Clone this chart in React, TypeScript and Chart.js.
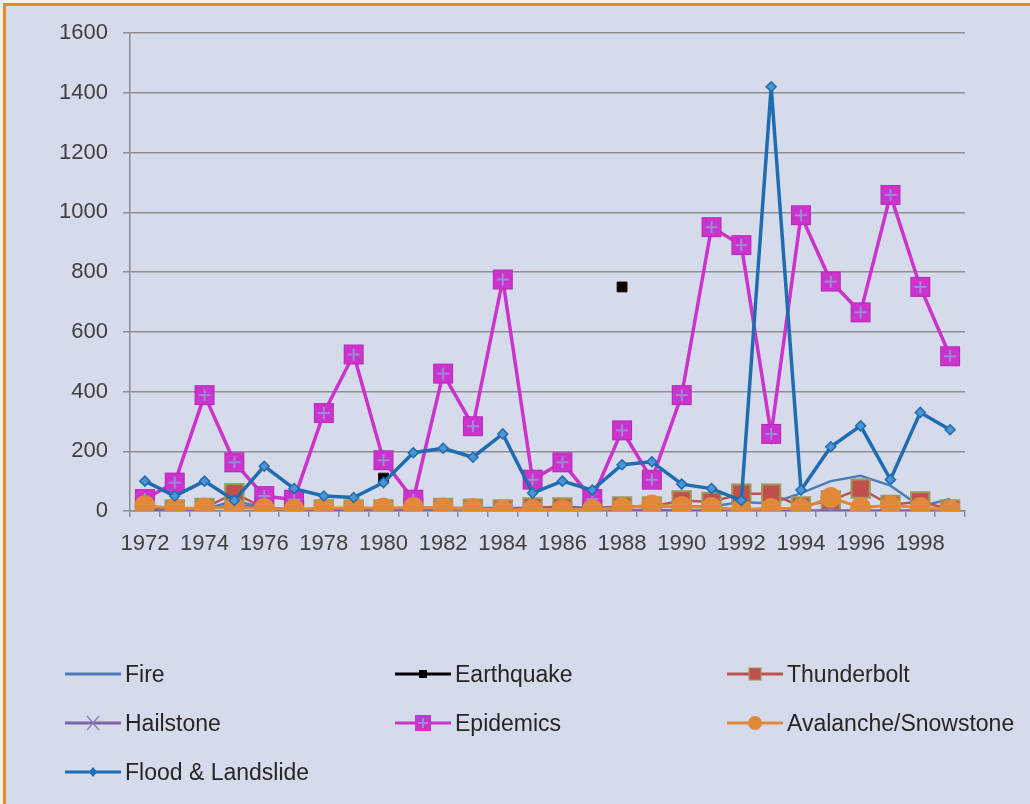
import React, { useEffect, useRef } from "react";
import { Chart, registerables } from "chart.js";

Chart.register(...registerables);

const years = [
  "1972", "1973", "1974", "1975", "1976", "1977", "1978", "1979", "1980", "1981",
  "1982", "1983", "1984", "1985", "1986", "1987", "1988", "1989", "1990", "1991",
  "1992", "1993", "1994", "1995", "1996", "1997", "1998", "1999",
];
const yTicks = [0, 200, 400, 600, 800, 1000, 1200, 1400, 1600];

const fire = [8, 5, 5, 35, 10, 5, 5, 5, 5, 10, 10, 10, 10, 10, 15, 10, 15, 15, 15, 15, 30, 25, 60, 100, 118, 85, 15, 40];
const earthquake = [null, null, null, null, null, null, null, null, 110, null, null, null, null, null, null, null, 750, null, null, null, null, 3, null, null, null, null, null, null];
const thunderbolt = [10, 5, 10, 60, 10, 5, 5, 5, 5, 10, 10, 8, 5, 12, 12, 5, 15, 15, 35, 30, 58, 58, 15, 35, 75, 20, 32, 5];
const hailstone = [5, 3, 5, 20, 10, 3, 3, 3, 3, 3, 3, 12, 3, 2, 2, 2, 3, 3, 2, 2, 2, 2, 2, 2, 2, 2, 2, 2];
const epidemics = [40, 95, 388, 163, 50, 38, 328, 524, 170, 38, 460, 284, 775, 105, 163, 40, 270, 105, 388, 950, 890, 258, 990, 768, 665, 1058, 750, 518];
const avalanche = [18, 8, 10, 12, 8, 5, 10, 10, 10, 12, 10, 8, 3, 5, 5, 5, 10, 20, 15, 12, 5, 8, 8, 45, 12, 18, 12, 3];
const flood = [100, 50, 100, 35, 150, 75, 50, 45, 95, 195, 210, 180, 258, 60, 100, 70, 155, 165, 90, 75, 35, 1420, 70, 215, 285, 105, 330, 272];

const seriesNames = ["Fire", "Earthquake", "Thunderbolt", "Hailstone", "Epidemics", "Avalanche/Snowstone", "Flood & Landslide"];

const BG = "#d5dbeb";
const FONT = "'Liberation Sans', Arial, sans-serif";

function makeEpidemicMarker(): HTMLCanvasElement {
  const c = document.createElement("canvas");
  c.width = 22;
  c.height = 22;
  const ctx = c.getContext("2d")!;
  ctx.fillStyle = "#cc33cc";
  ctx.fillRect(1, 1, 20, 20);
  ctx.strokeStyle = "#b52db5";
  ctx.lineWidth = 1;
  ctx.strokeRect(1.5, 1.5, 19, 19);
  ctx.strokeStyle = "#9c8ad8";
  ctx.lineWidth = 2;
  ctx.beginPath();
  ctx.moveTo(11, 5);
  ctx.lineTo(11, 17);
  ctx.moveTo(5, 11);
  ctx.lineTo(17, 11);
  ctx.stroke();
  return c;
}

function LegendIcon({ kind }: { kind: number }) {
  const w = 56;
  const h = 22;
  const cy = 11;
  const cx = 28;
  const colors = ["#4a7ebb", "#000000", "#c0504d", "#7f62a7", "#cc33cc", "#e0893a", "#1f6cb0"];
  const lineW = 3;
  let marker: React.ReactNode = null;
  if (kind === 1) marker = <rect x={cx - 4} y={cy - 4} width={8} height={8} fill="#000" />;
  if (kind === 2) marker = <rect x={cx - 6} y={cy - 6} width={12} height={12} fill="#c0504d" stroke="#9b9b5a" strokeWidth={1} />;
  if (kind === 3)
    marker = (
      <g stroke="#8a78b8" strokeWidth={1.2}>
        <line x1={cx - 6} y1={cy - 7} x2={cx + 6} y2={cy + 7} />
        <line x1={cx - 6} y1={cy + 7} x2={cx + 6} y2={cy - 7} />
      </g>
    );
  if (kind === 4)
    marker = (
      <g>
        <rect x={cx - 8} y={cy - 8} width={16} height={16} fill="#cc33cc" />
        <line x1={cx} y1={cy - 5} x2={cx} y2={cy + 5} stroke="#9c8ad8" strokeWidth={2} />
        <line x1={cx - 5} y1={cy} x2={cx + 5} y2={cy} stroke="#9c8ad8" strokeWidth={2} />
      </g>
    );
  if (kind === 5) marker = <circle cx={cx} cy={cy} r={7} fill="#e0893a" />;
  if (kind === 6) marker = <polygon points={`${cx},${cy - 5} ${cx + 4},${cy} ${cx},${cy + 5} ${cx - 4},${cy}`} fill="#1f6cb0" />;
  return (
    <svg width={w} height={h} style={{ display: "block" }}>
      <line x1={0} y1={cy} x2={w} y2={cy} stroke={colors[kind]} strokeWidth={lineW} />
      {marker}
    </svg>
  );
}

export default function App() {
  const canvasRef = useRef<HTMLCanvasElement | null>(null);

  useEffect(() => {
    const canvas = canvasRef.current;
    if (!canvas) return;
    const epiMarker = makeEpidemicMarker();
    const chart = new Chart(canvas, {
      type: "line",
      data: {
        labels: years,
        datasets: [
          {
            label: seriesNames[0],
            data: fire,
            borderColor: "#4a7ebb",
            borderWidth: 2.5,
            pointRadius: 0,
            order: 7,
          },
          {
            label: seriesNames[1],
            data: earthquake,
            borderColor: "#000000",
            borderWidth: 2.5,
            pointStyle: "rect",
            pointRadius: 7,
            pointBackgroundColor: "#000000",
            pointBorderColor: "#3a0a0a",
            pointBorderWidth: 1,
            spanGaps: false,
            order: 6,
          },
          {
            label: seriesNames[2],
            data: thunderbolt,
            borderColor: "#c0504d",
            borderWidth: 2.5,
            pointStyle: "rect",
            pointRadius: 13,
            pointBackgroundColor: "#c0504d",
            pointBorderColor: "#9b9b5a",
            pointBorderWidth: 2,
            order: 5,
          },
          {
            label: seriesNames[3],
            data: hailstone,
            borderColor: "#7f62a7",
            borderWidth: 2.5,
            pointStyle: "crossRot",
            pointRadius: 9,
            pointBorderColor: "#8a78b8",
            pointBorderWidth: 1.5,
            order: 4,
          },
          {
            label: seriesNames[4],
            data: epidemics,
            borderColor: "#cc33cc",
            borderWidth: 3.5,
            pointStyle: epiMarker,
            pointRadius: 11,
            order: 3,
          },
          {
            label: seriesNames[5],
            data: avalanche,
            borderColor: "#e0893a",
            borderWidth: 3,
            pointStyle: "circle",
            pointRadius: 9,
            pointBackgroundColor: "#e0893a",
            pointBorderColor: "#e0893a",
            order: 2,
          },
          {
            label: seriesNames[6],
            data: flood,
            borderColor: "#1f6cb0",
            borderWidth: 3.5,
            pointStyle: "rectRot",
            pointRadius: 5,
            pointBackgroundColor: "#4a95d4",
            pointBorderColor: "#1f6cb0",
            pointBorderWidth: 1.5,
            order: 1,
          },
        ],
      },
      options: {
        responsive: false,
        animation: false,
        layout: { padding: { left: 0, top: 33, right: 65, bottom: 243 } },
        plugins: {
          legend: { display: false },
          tooltip: { enabled: false },
        },
        elements: { line: { tension: 0 } },
        scales: {
          x: {
            type: "category",
            offset: true,
            grid: {
              offset: true,
              drawOnChartArea: false,
              drawTicks: true,
              tickLength: 6,
              color: "#8c8c8c",
              lineWidth: 1.5,
            },
            border: { display: true, color: "#8c8c8c", width: 1.5 },
            ticks: {
              autoSkip: false,
              maxRotation: 0,
              minRotation: 0,
              padding: 14,
              color: "#404040",
              font: { family: FONT, size: 22 },
              callback: (_v: any, i: number) => (i % 2 === 0 ? years[i] : ""),
            },
            afterFit: (scale: any) => {
              scale.height = 50;
            },
          },
          y: {
            min: 0,
            max: 1600,
            afterBuildTicks: (scale: any) => {
              scale.ticks = yTicks.map((v) => ({ value: v }));
            },
            grid: {
              color: "#8f8f8f",
              lineWidth: 1.5,
              drawTicks: true,
              tickLength: 7,
            },
            border: { display: true, color: "#8c8c8c", width: 1.5 },
            ticks: {
              padding: 15,
              color: "#404040",
              font: { family: FONT, size: 22 },
              callback: (v: any) => String(v),
            },
            afterFit: (scale: any) => {
              scale.width = 130;
            },
          },
        },
      },
    });
    return () => chart.destroy();
  }, []);

  const cols = [65, 395, 727];
  const rows = [674, 723, 772];
  const positions = [
    [0, 0], [1, 0], [2, 0],
    [0, 1], [1, 1], [2, 1],
    [0, 2],
  ];

  return (
    <div style={{ position: "absolute", left: 0, top: 0, width: 1030, height: 804, overflow: "hidden", background: "#f4f1ea" }}>
      <div
        style={{
          position: "absolute",
          left: 3,
          top: 3,
          width: 1040,
          height: 820,
          borderLeft: "3px solid #ee8a1c",
          borderTop: "3px solid #ee8a1c",
          background: BG,
        }}
      />
      <canvas ref={canvasRef} width={1030} height={804} style={{ position: "absolute", left: 0, top: 0 }} />
      {seriesNames.map((name, i) => {
        const [c, r] = positions[i];
        return (
          <div
            key={name}
            style={{
              position: "absolute",
              left: cols[c],
              top: rows[r] - 13,
              height: 26,
              display: "flex",
              alignItems: "center",
              fontFamily: FONT,
              fontSize: 23,
              color: "#262626",
              whiteSpace: "nowrap",
            }}
          >
            <LegendIcon kind={i} />
            <span style={{ marginLeft: 4 }}>{name}</span>
          </div>
        );
      })}
    </div>
  );
}
